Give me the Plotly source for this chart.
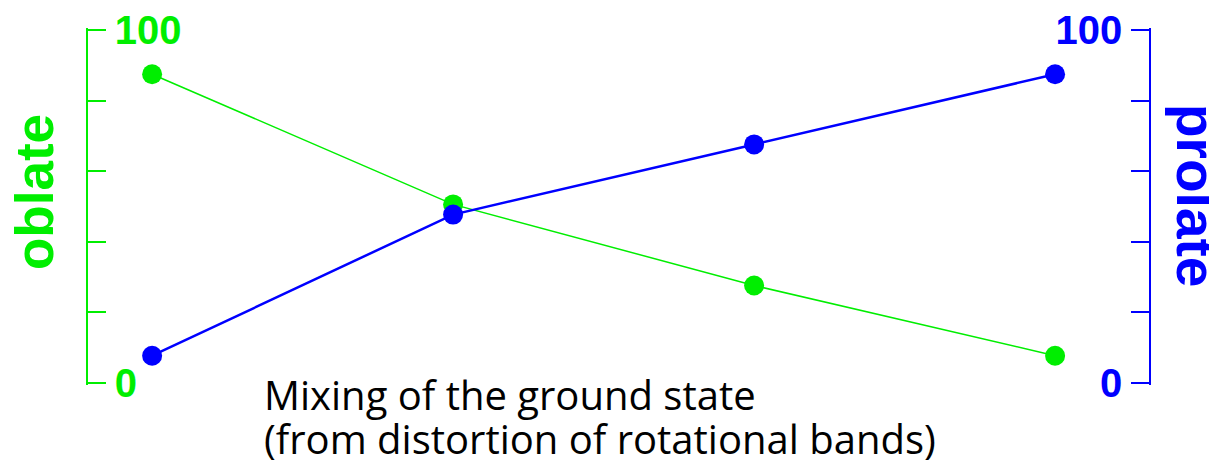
import plotly.graph_objects as go

# Ground-state mixing: four points on a shared 0-100 scale
positions = [1, 2, 3, 4]
oblate = [87.5, 50.6, 27.6, 7.7]
prolate = [7.7, 47.7, 67.6, 87.5]
tick_values = [0, 20, 40, 60, 80, 100]
tick_labels = ["0", "", "", "", "", "100"]

GREEN = "#00ee00"
BLUE = "#0000ff"
W, H = 1209, 468
L, R, T, B = 88, 60, 28, 83
PW, PH = W - L - R, H - T - B


def px_x(x):
    return (x - L) / PW


def px_y(y):
    return (H - B - y) / PH


fig = go.Figure()
fig.add_trace(go.Scatter(
    x=positions, y=oblate, mode="lines+markers",
    line=dict(color=GREEN, width=1.5),
    marker=dict(color=GREEN, size=20),
    yaxis="y", showlegend=False,
))
fig.add_trace(go.Scatter(
    x=positions, y=prolate, mode="lines+markers",
    line=dict(color=BLUE, width=2.5),
    marker=dict(color=BLUE, size=20),
    yaxis="y2", showlegend=False,
))

# small padding so the end ticks at 0 and 100 are kept when drawn inside
axis_common = dict(
    range=[-0.6, 100.6], tickvals=tick_values, ticktext=tick_labels,
    ticks="inside", ticklen=18, tickwidth=1.5, showline=True, linewidth=1.5,
    showgrid=False, zeroline=False, ticklabelposition="inside",
    ticklabeloverflow="allow", ticklabelstandoff=14, automargin=False,
)

fig.update_layout(
    width=W, height=H,
    margin=dict(l=L, r=R, t=T, b=B, autoexpand=False),
    plot_bgcolor="white", paper_bgcolor="white",
    xaxis=dict(range=[0.787, 4.312], visible=False),
    yaxis=dict(**axis_common, linecolor=GREEN, tickcolor=GREEN,
               tickfont=dict(family="Liberation Sans", size=40, color=GREEN, weight="bold")),
    yaxis2=dict(**axis_common, overlaying="y", side="right", linecolor=BLUE,
                tickcolor=BLUE,
                tickfont=dict(family="Liberation Sans", size=40, color=BLUE, weight="bold")),
    annotations=[
        dict(text="oblate", textangle=-90, xref="paper", yref="paper",
             x=px_x(34), y=px_y(192),
             xanchor="center", yanchor="middle", showarrow=False,
             font=dict(family="Liberation Sans", size=53, color=GREEN, weight="bold")),
        dict(text="prolate", textangle=90, xref="paper", yref="paper",
             x=px_x(1196), y=px_y(195),
             xanchor="center", yanchor="middle", showarrow=False,
             font=dict(family="Liberation Sans", size=55, color=BLUE, weight="bold")),
        dict(text="Mixing of the ground state",
             xref="paper", yref="paper", align="left",
             x=px_x(262), y=px_y(395),
             xanchor="left", yanchor="middle", showarrow=False,
             font=dict(family="Open Sans", size=40, color="black")),
        dict(text="(from distortion of rotational bands)",
             xref="paper", yref="paper", align="left",
             x=px_x(262), y=px_y(439),
             xanchor="left", yanchor="middle", showarrow=False,
             font=dict(family="Open Sans", size=40, color="black")),
    ],
)

fig.write_html("out.html")
